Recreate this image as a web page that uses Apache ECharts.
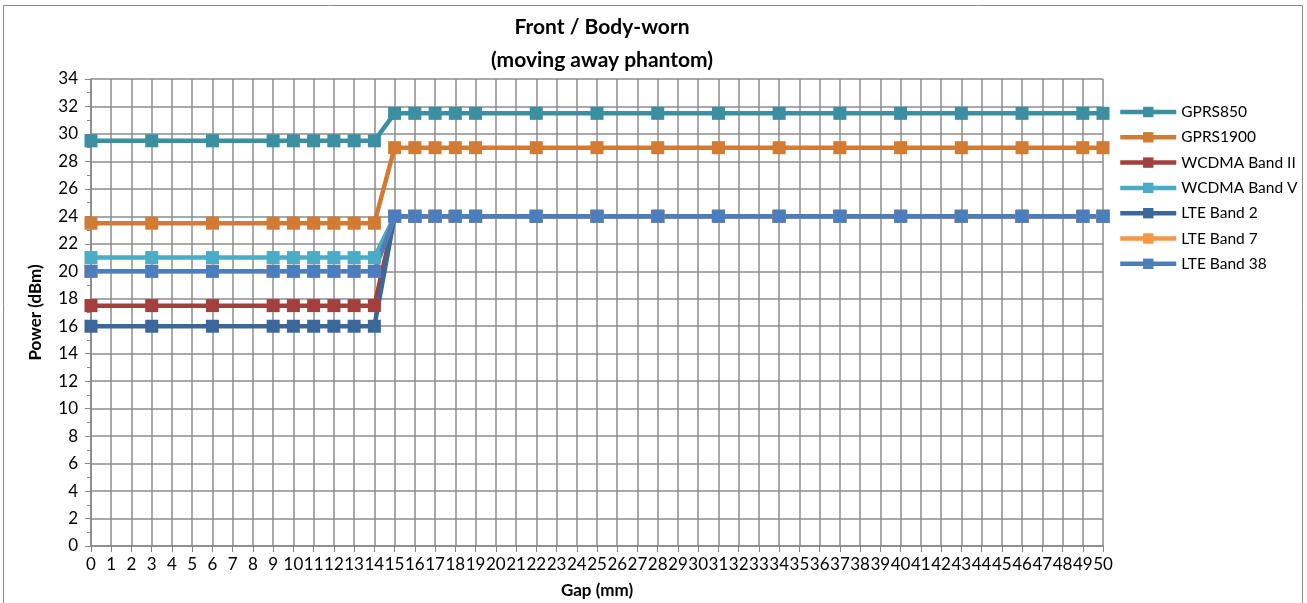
<!DOCTYPE html>
<html>
<head>
<meta charset="utf-8">
<script src="https://cdn.jsdelivr.net/npm/echarts@6/dist/echarts.min.js"></script>
<style>html,body{margin:0;padding:0;background:#fff}#c{width:1307px;height:603px}</style>
</head>
<body>
<div id="c"></div>
<script>
var gaps = [0,3,6,9,10,11,12,13,14,15,16,17,18,19,22,25,28,31,34,37,40,43,46,49,50];
var seriesNames = ['GPRS850','GPRS1900','WCDMA Band II','WCDMA Band V','LTE Band 2','LTE Band 7','LTE Band 38'];
var gprs850   = [29.5,29.5,29.5,29.5,29.5,29.5,29.5,29.5,29.5,31.5,31.5,31.5,31.5,31.5,31.5,31.5,31.5,31.5,31.5,31.5,31.5,31.5,31.5,31.5,31.5];
var gprs1900  = [23.5,23.5,23.5,23.5,23.5,23.5,23.5,23.5,23.5,29,29,29,29,29,29,29,29,29,29,29,29,29,29,29,29];
var wcdmaII   = [17.5,17.5,17.5,17.5,17.5,17.5,17.5,17.5,17.5,24,24,24,24,24,24,24,24,24,24,24,24,24,24,24,24];
var wcdmaV    = [21,21,21,21,21,21,21,21,21,24,24,24,24,24,24,24,24,24,24,24,24,24,24,24,24];
var lteB2     = [16,16,16,16,16,16,16,16,16,24,24,24,24,24,24,24,24,24,24,24,24,24,24,24,24];
var lteB7     = [20,20,20,20,20,20,20,20,20,24,24,24,24,24,24,24,24,24,24,24,24,24,24,24,24];
var lteB38    = [20,20,20,20,20,20,20,20,20,24,24,24,24,24,24,24,24,24,24,24,24,24,24,24,24];
var allValues = [gprs850,gprs1900,wcdmaII,wcdmaV,lteB2,lteB7,lteB38];
var colors = ['#3A8FA1','#D27B34','#A33F3C','#4BACC6','#3C679B','#F79646','#4A7EBF'];

var FONT = 'Lato, "Liberation Sans", sans-serif';
var chart = echarts.init(document.getElementById('c'), null, {renderer:'canvas'});
var series = seriesNames.map(function(n,i){
  return {
    name:n, type:'line', data: gaps.map(function(g,j){return [g, allValues[i][j]];}),
    symbol:'rect', symbolSize:13, lineStyle:{width:4.5,color:colors[i]},
    itemStyle:{color:colors[i]}, color:colors[i], animation:false
  };
});
chart.setOption({
  animation:false,
  textStyle:{fontFamily:FONT},
  graphic:[{type:'rect', shape:{x:3.5,y:5.5,width:1299,height:610}, style:{fill:null, stroke:'#8a8a8a', lineWidth:1}, silent:true}],
  title:{text:'Front / Body-worn\n(moving away phantom)', left:597, textAlign:'center', top:6,
    textStyle:{fontFamily:FONT, fontSize:21, fontWeight:'bold', color:'#000', lineHeight:33}},
  legend:{orient:'vertical', left:1113, top:99, itemWidth:56, itemHeight:13, itemGap:9.3,
    lineStyle:{width:4.5}, textStyle:{fontFamily:FONT, fontSize:15.5, color:'#000'}, data:seriesNames},
  grid:{left:91, right:204, top:79, bottom:57, containLabel:false, outerBoundsMode:'none'},
  xAxis:{type:'value', min:0, max:50, interval:1, name:'Gap (mm)', nameLocation:'middle', nameGap:36,
    nameTextStyle:{fontFamily:FONT, fontSize:17, fontWeight:'bold', color:'#000'},
    axisLine:{lineStyle:{color:'#868686', width:1.5}}, axisTick:{show:true, length:6, lineStyle:{color:'#868686'}},
    axisLabel:{fontFamily:FONT, fontSize:17, color:'#000', margin:10},
    splitLine:{show:true, lineStyle:{color:'#8c8c8c', width:1.5}}},
  yAxis:{type:'value', min:0, max:34, interval:2, name:'Power (dBm)', nameLocation:'middle', nameGap:47,
    nameTextStyle:{fontFamily:FONT, fontSize:17, fontWeight:'bold', color:'#000'},
    axisLine:{show:true, lineStyle:{color:'#868686', width:1.5}}, axisTick:{show:true, length:6, inside:false, lineStyle:{color:'#868686'}},
    minorTick:{show:true, splitNumber:2, length:4, lineStyle:{color:'#868686'}},
    axisLabel:{fontFamily:FONT, fontSize:17, color:'#000', margin:13},
    splitLine:{show:true, lineStyle:{color:'#8c8c8c', width:1.5}}},
  series:series
});
</script>
</body>
</html>
